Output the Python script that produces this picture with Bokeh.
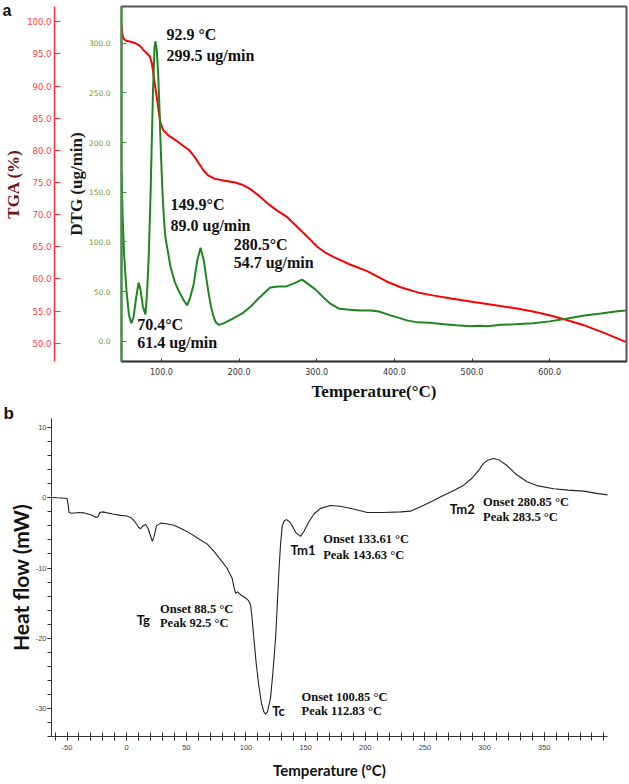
from bokeh.plotting import figure
from bokeh.models import Range1d, LinearAxis, FixedTicker, NumeralTickFormatter, Title
from bokeh.embed import file_html
from bokeh.resources import INLINE
from bokeh.core.properties import value

# ---------------- data: panel a (TGA / DTG) ----------------
dtg_temp = [48.5, 50, 52, 55, 58, 61, 64, 67, 70.5, 73, 76, 79.4, 81.5, 83.7, 86, 89, 91,
            92.3, 94, 95.7, 97.4, 99, 101, 103, 105, 111.6, 117, 122, 128, 133, 137,
            141.6, 146, 150.3, 154.6, 158, 161, 164, 167.4, 170, 174, 180, 190, 204, 215,
            225, 240, 250, 260, 270, 281, 290, 300, 310, 318, 328, 339, 355, 370, 380,
            395, 404, 416, 430, 445, 464, 480, 498, 510, 520, 537, 555, 579, 600, 623,
            645, 666, 685, 698]
dtg_rate = [170, 125, 85, 50, 27, 18, 24, 42, 59, 52, 35, 27, 50, 88, 150, 250, 295,
            302, 292, 270, 235, 195, 155, 125, 105, 75, 60, 51, 42, 36, 44,
            58, 81, 94, 81, 62, 47, 34, 24, 19, 16.5, 18, 22, 28, 35,
            43, 54, 55, 55, 58, 62, 57, 51, 43, 37.5, 33, 32, 31, 31, 30,
            26, 24, 21, 19, 18.5, 17, 16, 15, 15.5, 15, 16.5, 17, 18, 20, 23,
            26, 28, 30, 31]

tga_temp = [48.5, 49.5, 51, 54, 60, 66, 72, 77, 81, 85, 87.5, 90, 92, 94.5, 96.5, 98.7,
            102, 108, 118, 127, 135, 142, 148, 154, 160, 168, 180, 195, 205, 214, 225,
            236, 248, 262, 279, 290, 300.6, 311, 322, 343.6, 365, 390, 408, 430, 451,
            475, 502, 530, 558, 580, 601, 622, 644, 670, 698]
tga_mass = [99.5, 98.2, 97.4, 97.1, 96.9, 96.7, 96.3, 95.6, 95.1, 94.6, 93.6, 91.6, 89.8,
            87.8, 86.0, 84.3, 83.2, 82.4, 81.6, 80.8, 80.1, 79.1, 78.0, 76.9, 76.1, 75.6,
            75.3, 75.0, 74.6, 74.0, 73.0, 71.8, 70.7, 69.6, 67.6, 66.3, 65.0, 64.1, 63.4,
            62.2, 61.2, 59.6, 58.7, 57.9, 57.4, 56.9, 56.4, 55.9, 55.4, 54.9, 54.3, 53.6,
            52.8, 51.6, 50.2]

a_x_ticks = [100, 200, 300, 400, 500, 600]
a_dtg_ticks = [0, 50, 100, 150, 200, 250, 300]
a_tga_ticks = [50, 55, 60, 65, 70, 75, 80, 85, 90, 95, 100]

a_notes = ["92.9 °C", "299.5 ug/min", "149.9°C", "89.0 ug/min",
           "280.5°C", "54.7 ug/min", "70.4°C", "61.4 ug/min"]

# ---------------- data: panel b (DSC) ----------------
dsc_temp = [-63, -58, -52, -50, -49, -48.3, -46, -40, -35.7, -30, -25.5, -24, -22.5, -20,
            -12, -5, 0, 3.4, 7, 10, 11.7, 13.5, 15.9, 18, 20, 21.5, 23, 25, 28.5, 33,
            39.6, 46, 53.6, 60, 67.6, 73, 78.7, 84, 88.5, 90, 91.3, 93, 95.5, 99, 102,
            103.9, 105, 106.6, 108.5, 110.8, 113, 115, 116.4, 118, 120.6, 122.5, 124.8,
            126.3, 127.6, 129, 130.4, 132, 134, 136.5, 138.8, 142, 145.7, 148.5, 152.7,
            157, 162.5, 170.9, 179, 190, 201.6, 215, 230, 237.9, 246, 254.6, 265, 275,
            282.5, 290, 295, 299, 303, 307.6, 312, 318.8, 326, 335.6, 345, 357.9, 370,
            383, 395, 404]
dsc_heat = [0.05, 0.0, -0.05, -0.1, -1.0, -2.1, -2.2, -2.1, -2.15, -2.4, -2.8, -2.7, -2.1,
            -2.0, -2.3, -2.5, -2.6, -2.8, -3.4, -4.2, -4.4, -4.0, -3.8, -4.4, -5.4, -6.2,
            -5.5, -4.0, -3.6, -3.7, -3.9, -4.4, -5.1, -5.8, -6.6, -7.6, -8.8, -10.0,
            -11.5, -12.8, -13.6, -13.4, -13.8, -14.2, -14.6, -15.3, -17, -20, -23.5,
            -26.8, -29.3, -30.5, -30.8, -30.5, -28.5, -25, -20, -15, -10.5, -6.5, -4.0,
            -3.3, -3.1, -3.4, -4.0, -5.0, -5.5, -4.8, -3.4, -2.3, -1.5, -1.1, -1.2, -1.6,
            -2.1, -2.1, -2.0, -1.9, -1.3, -0.6, 0.3, 1.1, 1.8, 2.9, 3.9, 4.9, 5.4, 5.6,
            5.4, 4.6, 3.4, 2.3, 1.7, 1.3, 1.1, 0.95, 0.6, 0.4]

b_x_ticks = [-50, 0, 50, 100, 150, 200, 250, 300, 350]
b_y_ticks = [-30, -20, -10, 0, 10]

b_marks = ["Tg", "Tm1", "Tm2", "Tc"]
b_notes = ["Onset 88.5 °C", "Peak 92.5 °C", "Onset 133.61 °C", "Peak 143.63 °C",
           "Onset 280.85 °C", "Peak 283.5 °C", "Onset 100.85 °C", "Peak 112.83 °C"]

# ---------------- layout / style ----------------
W = 629
SERIF = value("Liberation Serif")
SANS = value("Lato")
TICKFONT = "DejaVu Sans"

# ===== panel a =====
pa = figure(width=W, height=403, output_backend="svg", toolbar_location=None,
            x_range=Range1d(48.5, 699), y_range=Range1d(-20.4, 337),
            min_border_left=121, min_border_right=3, min_border_top=6, min_border_bottom=42)
pa.extra_y_ranges = {"tga": Range1d(47.15, 102.38)}
pa.grid.visible = False
pa.outline_line_color = "#555555"
pa.outline_line_width = 2
pa.background_fill_color = "white"

xa = pa.xaxis[0]
xa.ticker = FixedTicker(ticks=a_x_ticks, minor_ticks=[])
xa.formatter = NumeralTickFormatter(format="0.0")
xa.axis_line_color = "#333333"
xa.axis_line_width = 1.5
xa.major_tick_in = 3
xa.major_tick_out = 0
xa.major_tick_line_color = "#333333"
xa.major_label_text_font = TICKFONT
xa.major_label_text_font_size = "8px"
xa.major_label_text_color = "#333333"
xa.major_label_standoff = 6
xa.axis_label = "Temperature(°C)"
xa.axis_label_text_font = "Liberation Serif"
xa.axis_label_text_font_style = "bold"
xa.axis_label_text_font_size = "17px"
xa.axis_label_text_color = "#111111"
xa.axis_label_standoff = 4

ya = pa.yaxis[0]
ya.ticker = FixedTicker(ticks=a_dtg_ticks, minor_ticks=[])
ya.formatter = NumeralTickFormatter(format="0.0")
ya.axis_line_color = "#3c9a3c"
ya.axis_line_width = 2
ya.major_tick_in = 5
ya.major_tick_out = 0
ya.major_tick_line_color = "#3c9a3c"
ya.major_label_text_font = TICKFONT
ya.major_label_text_font_size = "7.5px"
ya.major_label_text_color = "#5f9e3a"
ya.major_label_standoff = 11
ya.axis_label = "DTG (ug/min)"
ya.axis_label_text_font = "Liberation Serif"
ya.axis_label_text_font_style = "bold"
ya.axis_label_text_font_size = "17px"
ya.axis_label_text_color = "#1a1a1a"
ya.axis_label_standoff = 0

spacer = LinearAxis(ticker=FixedTicker(ticks=[], minor_ticks=[]), axis_line_color=None,
                    major_tick_line_color=None, minor_tick_line_color=None,
                    major_label_standoff=0, axis_label=" ",
                    axis_label_text_font_size="1px", axis_label_standoff=6)
pa.add_layout(spacer, "left")

ta = LinearAxis(y_range_name="tga", ticker=FixedTicker(ticks=a_tga_ticks, minor_ticks=[]),
                formatter=NumeralTickFormatter(format="0.0"))
ta.axis_line_color = "#ff3333"
ta.axis_line_width = 1.5
ta.major_tick_in = 6
ta.major_tick_out = 0
ta.major_tick_line_color = "#ff3333"
ta.major_label_text_font = TICKFONT
ta.major_label_text_font_size = "8.5px"
ta.major_label_text_color = "#ff3b3b"
ta.major_label_standoff = 3
ta.axis_label = "TGA (%)"
ta.axis_label_text_font = "Liberation Serif"
ta.axis_label_text_font_style = "bold"
ta.axis_label_text_font_size = "17px"
ta.axis_label_text_color = "#6e1414"
ta.axis_label_standoff = 1
pa.add_layout(ta, "left")

pa.line(tga_temp, tga_mass, color="#ff0000", line_width=2, y_range_name="tga")
pa.line(dtg_temp, dtg_rate, color="#1e861e", line_width=2)

a_nx = [106.4, 106.4, 111.6, 111.6, 193, 193, 68.7, 68.7]
a_ny = [309, 287.7, 137.7, 116.5, 97.4, 79.6, 16.8, -1]
pa.text(x=a_nx, y=a_ny, text=a_notes, text_font=SERIF, text_font_style="bold",
        text_font_size="16px", text_baseline="middle", text_align="left",
        text_color="#111111")

pa.add_layout(Title(text="a", align="left", offset=-119, standoff=-24,
                    text_font="Liberation Sans", text_font_style="bold",
                    text_font_size="16px", text_color="#111111"), "above")

# ===== panel b =====
pb = figure(width=W, height=381, output_backend="svg", toolbar_location=None,
            x_range=Range1d(-63, 403), y_range=Range1d(-34, 11.3),
            min_border_left=51, min_border_right=22, min_border_top=15, min_border_bottom=48)
pb.grid.visible = False
pb.outline_line_color = None

xb = pb.xaxis[0]
xb.ticker = FixedTicker(ticks=b_x_ticks, minor_ticks=list(range(-60, 401, 10)))
xb.major_label_overrides = {t: str(t) for t in b_x_ticks}
xb.major_tick_in = 4
xb.major_tick_out = 4
xb.minor_tick_in = 4
xb.minor_tick_out = 4
xb.axis_label = "Temperature (°C)"
xb.axis_label_standoff = 8

yb = pb.yaxis[0]
yb.ticker = FixedTicker(ticks=b_y_ticks, minor_ticks=list(range(-34, 12, 2)))
yb.major_label_overrides = {t: str(t) for t in b_y_ticks}
yb.major_tick_in = 0
yb.major_tick_out = 4
yb.minor_tick_in = 0
yb.minor_tick_out = 4
yb.axis_label = "Heat flow (mW)"
yb.axis_label_standoff = 0

for ax in (xb, yb):
    ax.axis_line_color = "#333333"
    ax.major_tick_line_color = "#333333"
    ax.minor_tick_line_color = "#333333"
    ax.major_label_text_font = "Liberation Sans"
    ax.major_label_text_font_size = "7.5px"
    ax.major_label_text_color = "#444444"
    ax.major_label_standoff = 4
    ax.axis_label_text_font = "Lato"
    ax.axis_label_text_font_style = "bold"
    ax.axis_label_text_color = "#111111"
xb.axis_label_text_font_size = "15px"
yb.axis_label_text_font_size = "21px"
yb.major_label_standoff = 1

pb.line(dsc_temp, dsc_heat, color="#222222", line_width=1.1)

b_mx = [8.4, 137.4, 270.8, 122]
b_my = [-17.4, -7.5, -1.6, -30.4]
pb.text(x=b_mx, y=b_my, text=b_marks, text_font=SANS, text_font_style="bold",
        text_font_size="13px", text_baseline="middle", text_align="left",
        text_color="#111111")

b_nx = [27.9, 27.9, 164.7, 164.7, 298.7, 298.7, 146.6, 146.6]
b_ny = [-15.8, -17.9, -5.9, -8.1, -0.57, -2.7, -28.4, -30.4]
pb.text(x=b_nx, y=b_ny, text=b_notes, text_font=SERIF, text_font_style="bold",
        text_font_size="12.5px", text_baseline="middle", text_align="left",
        text_color="#111111")

pb.add_layout(Title(text="b", align="left", offset=-48, standoff=-9,
                    text_font="Liberation Sans", text_font_style="bold",
                    text_font_size="17px", text_color="#111111"), "above")

open("out.html", "w").write(file_html([pa, pb], INLINE))
